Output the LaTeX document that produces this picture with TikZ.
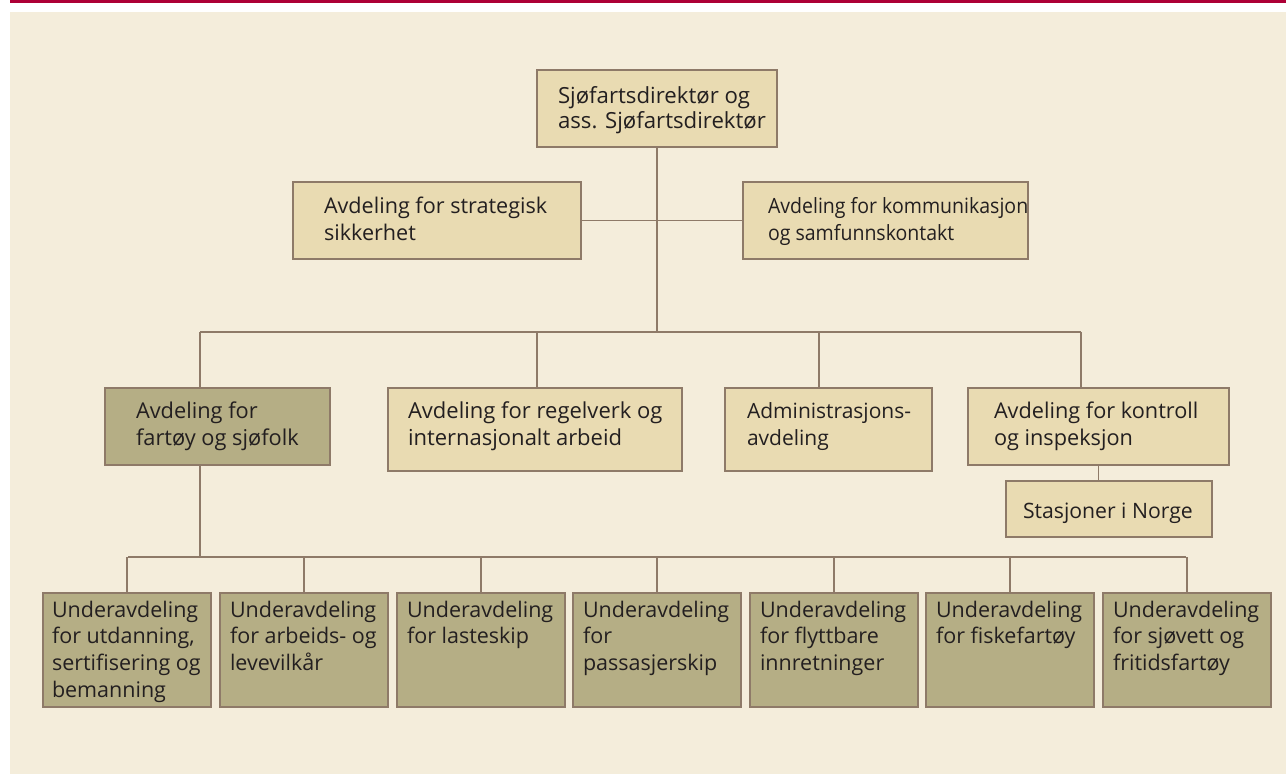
\documentclass[tikz,border=0pt]{standalone}
\usepackage{fontspec}
\setmainfont{Open Sans}
\newfontfamily\condfont[FakeStretch=0.93]{Open Sans}
\definecolor{bgc}{HTML}{F4EDDB}
\definecolor{lightc}{HTML}{E9DBB2}
\definecolor{darkc}{HTML}{B5AE85}
\definecolor{bordc}{HTML}{8E7A68}
\definecolor{redc}{HTML}{AD0036}
\definecolor{txtc}{HTML}{231F20}
% #1 width, #2 height, #3 left pad, #4 first baseline, #5 text
\newcommand{\bt}[5]{\parbox[c][#2pt][t]{#1pt}{\raggedright\leftskip=#3pt\relax\rightskip=-60pt plus 1fil\relax\rule{0pt}{#4pt}#5}}
\tikzset{
  box/.style={draw=bordc, line width=1.4pt, fill=lightc, inner sep=0pt, outer sep=0pt,
    anchor=north west, text=txtc, font=\fontsize{21.5}{26.7}\selectfont},
  darkbox/.style={box, fill=darkc},
  fsz/.style={font=\fontsize{#1}{26.7}\selectfont},
  conn/.style={draw=bordc, line width=1.4pt}
}
\begin{document}
\begin{tikzpicture}[x=1pt,y=-1pt]
\useasboundingbox (0,0) rectangle (1286,775);
\fill[bgc] (10,12) rectangle (1286,774);
\fill[redc] (10,0) rectangle (1286,3.5);

\node[box, font=\fontsize{22.2}{24.8}\selectfont] (top) at (537,70) {\bt{240}{77}{21}{33.5}{Sjøfartsdirektør og\\ass. Sjøfartsdirektør}};
\node[box, fsz=21.6] (strat) at (293,182) {\bt{288}{77}{31}{32}{Avdeling for strategisk\\sikkerhet}};
\node[box, font=\condfont\fontsize{21}{26.7}\selectfont] (komm) at (743,182) {\bt{285}{77}{25}{32}{Avdeling for kommunikasjon\\og samfunnskontakt}};
\node[darkbox, fsz=21.8] (fart) at (105,388) {\bt{225}{77}{31}{31}{Avdeling for\\fartøy og sjøfolk}};
\node[box, fsz=22] (regel) at (388,388) {\bt{294}{83}{20}{31}{Avdeling for regelverk og\\internasjonalt arbeid}};
\node[box, fsz=21] (admin) at (725,388) {\bt{207}{83}{22}{31}{Administrasjons-\\avdeling}};
\node[box, fsz=21.7] (kontr) at (968,388) {\bt{261}{77}{26}{31}{Avdeling for kontroll\\og inspeksjon}};
\node[box, fsz=21.2] (stas) at (1006,481) {\bt{206}{56}{17}{37}{Stasjoner i Norge}};

\node[darkbox] (u1) at (43,593) {\bt{168}{114}{9}{24}{Underavdeling\\for utdanning,\\sertifisering og\\bemanning}};
\node[darkbox] (u2) at (220,593) {\bt{168}{114}{10}{24}{Underavdeling\\for arbeids- og\\levevilkår}};
\node[darkbox] (u3) at (397,593) {\bt{168}{114}{10}{24}{Underavdeling\\for lasteskip}};
\node[darkbox] (u4) at (573,593) {\bt{168}{114}{10}{24}{Underavdeling\\for\\passasjerskip}};
\node[darkbox] (u5) at (750,593) {\bt{168}{114}{10}{24}{Underavdeling\\for flyttbare\\innretninger}};
\node[darkbox] (u6) at (926,593) {\bt{168}{114}{10}{24}{Underavdeling\\for fiskefartøy}};
\node[darkbox] (u7) at (1103,593) {\bt{168}{114}{10}{24}{Underavdeling\\for sjøvett og\\fritidsfartøy}};

% connectors
\coordinate (hub) at (657,332);
\coordinate (b1) at (200,332);
\coordinate (b2) at (537,332);
\coordinate (b3) at (819,332);
\coordinate (b4) at (1081,332);
\coordinate (c0) at (200,557);
\coordinate (cl) at (128,557);
\coordinate (cr) at (1186,557);

\draw[conn] (top.south) -- (hub);
\draw[conn] (strat.east) -- (komm.west);
\draw[conn] (b1) -- (b4);
\draw[conn] (b1) -- (b1 |- fart.north);
\draw[conn] (b2) -- (b2 |- regel.north);
\draw[conn] (b3) -- (b3 |- admin.north);
\draw[conn] (b4) -- (b4 |- kontr.north);
\draw[conn] (kontr.south) -- (kontr.south |- stas.north);
\draw[conn] (c0 |- fart.south) -- (c0);
\draw[conn] (cl) -- (cr);
\foreach \u in {u1,u2,u3,u4,u5,u6,u7}{
  \draw[conn] (\u.north |- cl) -- (\u.north);
}
\end{tikzpicture}
\end{document}
